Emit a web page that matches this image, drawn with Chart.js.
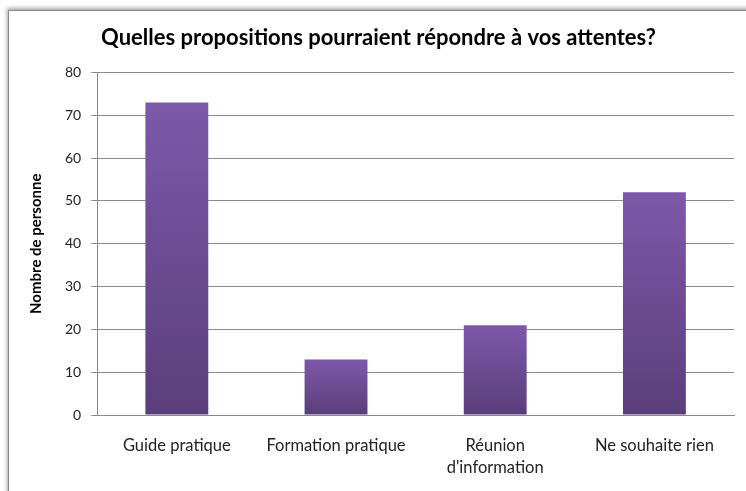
<!DOCTYPE html>
<html>
<head>
<meta charset="utf-8">
<script src="https://cdn.jsdelivr.net/npm/chart.js@4"></script>
<style>
  html, body { margin: 0; padding: 0; background: #fff; }
  #wrap { position: relative; width: 746px; height: 491px; overflow: hidden; }
  #frame { position: absolute; left: 8px; top: 10px; width: 800px; height: 520px;
           border: 1px solid #8a8a8a; box-shadow: -1px -2px 4px rgba(0,0,0,.35); background: #fff; }
  #c { position: absolute; left: 0; top: 0; }
</style>
</head>
<body>
<div id="wrap">
  <div id="frame"></div>
  <canvas id="c" width="746" height="491"></canvas>
</div>
<script>
"use strict";

const CATEGORIES = ["Guide pratique", "Formation pratique", ["Réunion", "d'information"], "Ne souhaite rien"];
const VALUES = [73, 13, 21, 52];
const Y_TICKS = [0, 10, 20, 30, 40, 50, 60, 70, 80];
const TITLE = "Quelles propositions pourraient répondre à vos attentes?";
const Y_TITLE = "Nombre de personne";

const FONT = "Lato, 'Liberation Sans', sans-serif";

// vertical purple gradient, lighter at the top of each bar
const barFill = (ctx) => {
  const { chart } = ctx;
  const area = chart.chartArea, ys = chart.scales.y;
  if (!area || !ys) return "#6c4c94";
  const top = ys.getPixelForValue(VALUES[ctx.dataIndex]), bot = area.bottom;
  if (!isFinite(top) || !isFinite(bot)) return "#6c4c94";
  const g = chart.ctx.createLinearGradient(0, top, 0, bot);
  g.addColorStop(0, "#7e58a9");
  g.addColorStop(1, "#5b3e7b");
  return g;
};

new Chart(document.getElementById("c"), {
  type: "bar",
  data: { labels: CATEGORIES, datasets: [{ data: VALUES, backgroundColor: barFill,
    categoryPercentage: 1, barPercentage: 0.395 }] },
  options: {
    responsive: false, animation: false,
    layout: { padding: { left: 23, right: 12, top: 0, bottom: 1 } },
    plugins: {
      legend: { display: false }, tooltip: { enabled: false },
      title: { display: true, text: TITLE, color: "#000",
               font: { family: FONT, size: 22, weight: "bold" }, padding: { top: 25, bottom: 21 } },
    },
    scales: {
      x: {
        grid: { display: false },
        border: { color: "#8a8a8a" },
        ticks: { color: "#222", font: { family: FONT, size: 16.5, lineHeight: 1.3 }, padding: 12, maxRotation: 0 },
      },
      y: {
        min: 0, max: 80,
        afterBuildTicks: (s) => { s.ticks = Y_TICKS.map((v) => ({ value: v })); },
        grid: { color: "#8a8a8a", tickLength: 6 },
        border: { color: "#8a8a8a" },
        ticks: { color: "#222", font: { family: FONT, size: 14 }, padding: 10 },
        title: { display: true, text: Y_TITLE, color: "#000",
                 font: { family: FONT, size: 15, weight: "bold" }, padding: { bottom: 10 } },
      },
    },
  },
});
</script>
</body>
</html>
